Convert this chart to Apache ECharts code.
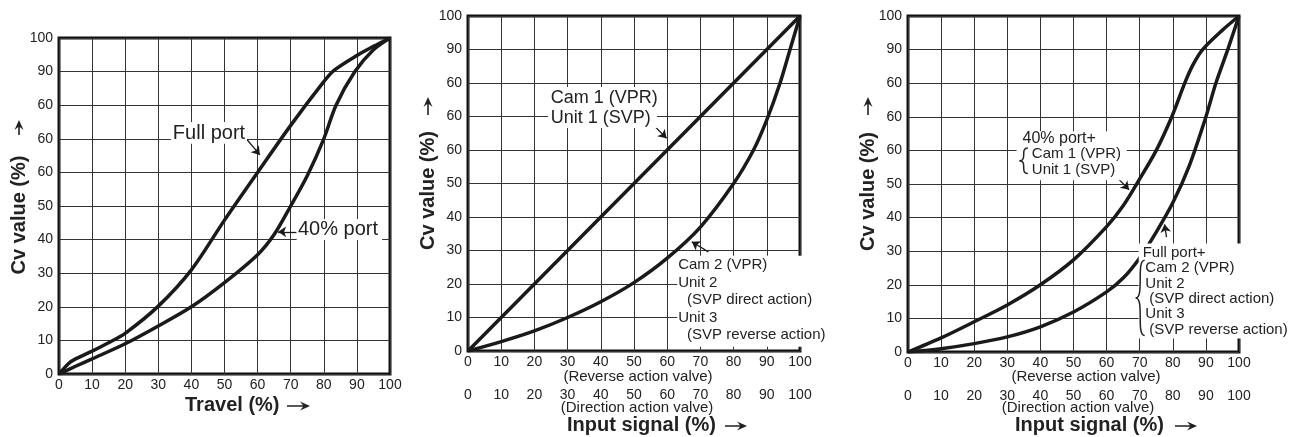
<!DOCTYPE html>
<html>
<head>
<meta charset="utf-8">
<script src="https://cdn.jsdelivr.net/npm/echarts@6/dist/echarts.min.js"></script>
<style>
  html, body { margin: 0; padding: 0; background: #fff; }
  #chart { width: 1298px; height: 437px; }
</style>
</head>
<body>
<div id="chart"></div>
<script>
// tick labels as printed on the original (the 60 repeats three times there)
var xTickLabels = ['0', '10', '20', '30', '40', '50', '60', '70', '80', '90', '100'];
var yTickLabels = ['0', '10', '20', '30', '40', '50', '60', '60', '60', '90', '100'];

// left panel: Cv vs travel
var travelFullPort = [[0, 0], [3, 3.2], [5, 4.5], [10, 6.8], [15, 9.3], [20, 12.1], [30, 20.2], [40, 31], [50, 45.8],
  [60, 60], [70, 74], [80, 87], [83, 90.3], [90, 94.8], [95, 97.5], [100, 100]];
var travel40Port = [[0, 0], [5, 2.3], [10, 4.5], [20, 9], [30, 14.3], [40, 20], [50, 27.2], [60, 35.5], [65, 41.5],
  [70, 50], [75, 59], [80, 70], [83.7, 80], [89.4, 90], [95, 96.5], [100, 100]];

// middle panel: Cv vs input signal
var cam1Unit1 = [[0, 0], [10, 10], [20, 20], [30, 30], [40, 40], [50, 50], [60, 60], [70, 70], [80, 80], [90, 90], [100, 100]];
var cam2Unit23 = [[0, 0], [10, 2.8], [20, 6], [30, 10], [40, 14.7], [50, 20.4], [60, 27.7], [70, 37], [80, 50],
  [86, 60], [90, 69], [94, 80], [97, 90], [100, 100]];

// right panel: port + cam combinations
var port40Cam1 = [[0, 0], [10, 4.2], [20, 9], [30, 14], [40, 20], [50, 27.4], [60, 37.3], [65, 43.5], [70, 51.5],
  [75, 60], [79.7, 70], [83.6, 80], [86, 85.3], [89, 90], [95, 95.8], [100, 100]];
var fullPortCam2 = [[0, 0], [10, 1], [20, 2.5], [30, 4.5], [40, 7.5], [50, 11.9], [60, 17.9], [65, 22], [70, 28],
  [75, 35.7], [80, 44.4], [85, 55.5], [90, 70], [93, 80], [96.6, 90], [100, 100]];

var FONT = '"Liberation Sans", Arial, sans-serif';
var INK = '#1a1a1a';

var chart = echarts.init(document.getElementById('chart'));

var grids = [
  { left: 59, top: 38, width: 331, height: 336 },
  { left: 468, top: 16, width: 332, height: 335 },
  { left: 908, top: 16, width: 331, height: 336 }
];

function axis(gi, labels, margin, extra) {
  var a = {
    type: 'value', gridIndex: gi, min: 0, max: 100, interval: 10,
    axisLine: { show: false }, axisTick: { show: false },
    splitLine: { show: true, lineStyle: { color: '#333', width: 1 } },
    axisLabel: {
      color: '#222', fontSize: 14, fontFamily: FONT, margin: margin,
      formatter: function (v) { return labels[Math.round(v / 10)]; }
    }
  };
  return Object.assign(a, extra || {});
}

function arrowLine(from, to) {
  return {
    silent: true, symbol: ['none', 'arrow'], symbolSize: 8, animation: false,
    label: { show: false },
    lineStyle: { color: INK, width: 1.3, type: 'solid' },
    data: [[{ coord: from }, { coord: to }]]
  };
}

function curve(xi, yi, data, mark) {
  return {
    type: 'line', xAxisIndex: xi, yAxisIndex: yi, data: data,
    smooth: 0.3, showSymbol: false, silent: true,
    lineStyle: { color: INK, width: 3.5 },
    markLine: mark
  };
}

chart.setOption({
  animation: false,
  backgroundColor: '#fff',
  grid: grids.map(function (g) {
    return Object.assign({ show: true, borderColor: '#111', borderWidth: 3, containLabel: false, outerBoundsMode: 'none' }, g);
  }),
  xAxis: [
    axis(0, xTickLabels, 4, { position: 'bottom' }),
    axis(1, xTickLabels, 4, { position: 'bottom' }),
    axis(2, xTickLabels, 4, { position: 'bottom' }),
    axis(1, xTickLabels, 4, { position: 'bottom', offset: 33, splitLine: { show: false } }),
    axis(2, xTickLabels, 4, { position: 'bottom', offset: 33, splitLine: { show: false } })
  ],
  yAxis: [
    axis(0, yTickLabels, 6),
    axis(1, yTickLabels, 6),
    axis(2, yTickLabels, 6)
  ],
  series: [
    curve(0, 0, travelFullPort, arrowLine([56.5, 70.1], [60.7, 65.2])),
    curve(0, 0, travel40Port, arrowLine([71.8, 42.3], [66.2, 42.3])),
    curve(1, 1, cam1Unit1, arrowLine([55.8, 67.5], [59.8, 63.5])),
    curve(1, 1, cam2Unit23, arrowLine([72.4, 29.6], [67.4, 32.6])),
    curve(2, 2, port40Cam1, arrowLine([62, 53.1], [66.8, 48.3])),
    curve(2, 2, fullPortCam2, arrowLine([78.1, 34.2], [77.5, 38.0]))
  ]
});

// ---- annotations (placed in data space, converted to pixels) ----
function px(gi, x, y) { return chart.convertToPixel({ gridIndex: gi }, [x, y]); }

var boxes = [
  [0, 33.8, 75, 56.8, 68.5], [0, 71.8, 46.1, 97.6, 39.9],
  [1, 24.1, 78.8, 56.9, 66.6], [1, 63.0, 28.4, 109, 1.3],
  [2, 32.8, 65.7, 66.1, 51.1], [2, 69.7, 32.3, 116.9, 4.0]
];
var notes = [
  [0, 34.4, 71.7, 'Full port', 20], [0, 72.2, 42.9, '40% port', 20],
  [1, 24.9, 75.5, 'Cam 1 (VPR)', 18], [1, 24.9, 69.6, 'Unit 1 (SVP)', 18],
  [1, 63.3, 25.7, 'Cam 2 (VPR)', 15], [1, 63.3, 20.3, 'Unit 2', 15], [1, 66, 15.2, '(SVP direct action)', 15],
  [1, 63.3, 9.9, 'Unit 3', 15], [1, 66, 4.8, '(SVP reverse action)', 15],
  [2, 34.6, 63.6, '40% port+', 16], [2, 37.4, 58.9, 'Cam 1 (VPR)', 15], [2, 37.4, 54.1, 'Unit 1 (SVP)', 15],
  [2, 70.9, 29.4, 'Full port+', 15], [2, 71.7, 24.9, 'Cam 2 (VPR)', 15], [2, 71.7, 20.4, 'Unit 2', 15],
  [2, 72.9, 15.9, '(SVP direct action)', 15], [2, 71.7, 11.5, 'Unit 3', 15], [2, 72.9, 6.7, '(SVP reverse action)', 15]
];
var braces = [[2, 33.7, 36.2, 60.7, 53.1], [2, 68.8, 71.5, 27.3, 4.9]];

var gfx = [];
boxes.forEach(function (b) {
  var p1 = px(b[0], b[1], b[2]), p2 = px(b[0], b[3], b[4]);
  gfx.push({ type: 'rect', z: 50, silent: true, shape: { x: p1[0], y: p1[1], width: p2[0] - p1[0], height: p2[1] - p1[1] }, style: { fill: '#fff' } });
});
notes.forEach(function (n) {
  var p = px(n[0], n[1], n[2]);
  gfx.push({ type: 'text', z: 60, silent: true, x: p[0], y: p[1],
    style: { text: n[3], fill: '#222', font: n[4] + 'px ' + FONT, align: 'left', verticalAlign: 'middle' } });
});
braces.forEach(function (b) {
  var a = px(b[0], b[1], b[3]), c = px(b[0], b[2], b[4]);
  var x = a[0], w = c[0] - a[0], y1 = a[1], y2 = c[1], mid = (y1 + y2) / 2;
  var st = { stroke: '#222', lineWidth: 1.5, fill: null };
  gfx.push({ type: 'bezierCurve', z: 60, silent: true, shape: { x1: x + w, y1: y1, cpx1: x, cpy1: y1, cpx2: x + w, cpy2: mid, x2: x, y2: mid }, style: st });
  gfx.push({ type: 'bezierCurve', z: 60, silent: true, shape: { x1: x, y1: mid, cpx1: x + w, cpy1: mid, cpx2: x, cpy2: y2, x2: x + w, y2: y2 }, style: st });
});

// axis titles
function title(x, y, text, rot) {
  gfx.push({ type: 'text', z: 60, silent: true, x: x, y: y, rotation: rot || 0,
    style: { text: text, fill: '#222', font: 'bold 20px ' + FONT, align: rot ? 'center' : 'left', verticalAlign: 'middle' } });
}
function sub(x, y, text) {
  gfx.push({ type: 'text', z: 60, silent: true, x: x, y: y,
    style: { text: text, fill: '#222', font: '15px ' + FONT, align: 'center', verticalAlign: 'middle' } });
}
function dart(x0, x1, y, rot, cx, cy) {
  var pts = [[x0, y - 0.8], [x1 - 7, y - 0.8], [x1 - 10, y - 4.5], [x1, y], [x1 - 10, y + 4.5], [x1 - 7, y + 0.8], [x0, y + 0.8]];
  gfx.push({ type: 'polygon', z: 60, silent: true, shape: { points: pts }, style: { fill: '#222' },
    rotation: rot || 0, originX: cx || 0, originY: cy || 0 });
}

title(185, 405, 'Travel (%)'); dart(287, 310, 406);
title(567, 425, 'Input signal (%)'); dart(725, 747, 426);
title(1015, 425, 'Input signal (%)'); dart(1175, 1197, 426);

title(19, 215, 'Cv value (%)', Math.PI / 2);
title(428, 190.5, 'Cv value (%)', Math.PI / 2);
title(868, 191.5, 'Cv value (%)', Math.PI / 2);
// upward arrows above the rotated titles
dart(19 - 7.5, 19 + 7.5, 127.5, Math.PI / 2, 19, 127.5);
dart(428 - 9, 428 + 9, 106, Math.PI / 2, 428, 106);
dart(868 - 9, 868 + 9, 106, Math.PI / 2, 868, 106);

sub(638, 377, '(Reverse action valve)');
sub(637, 408, '(Direction action valve)');
sub(1086, 377, '(Reverse action valve)');
sub(1078, 408, '(Direction action valve)');

chart.setOption({ graphic: gfx });
</script>
</body>
</html>
